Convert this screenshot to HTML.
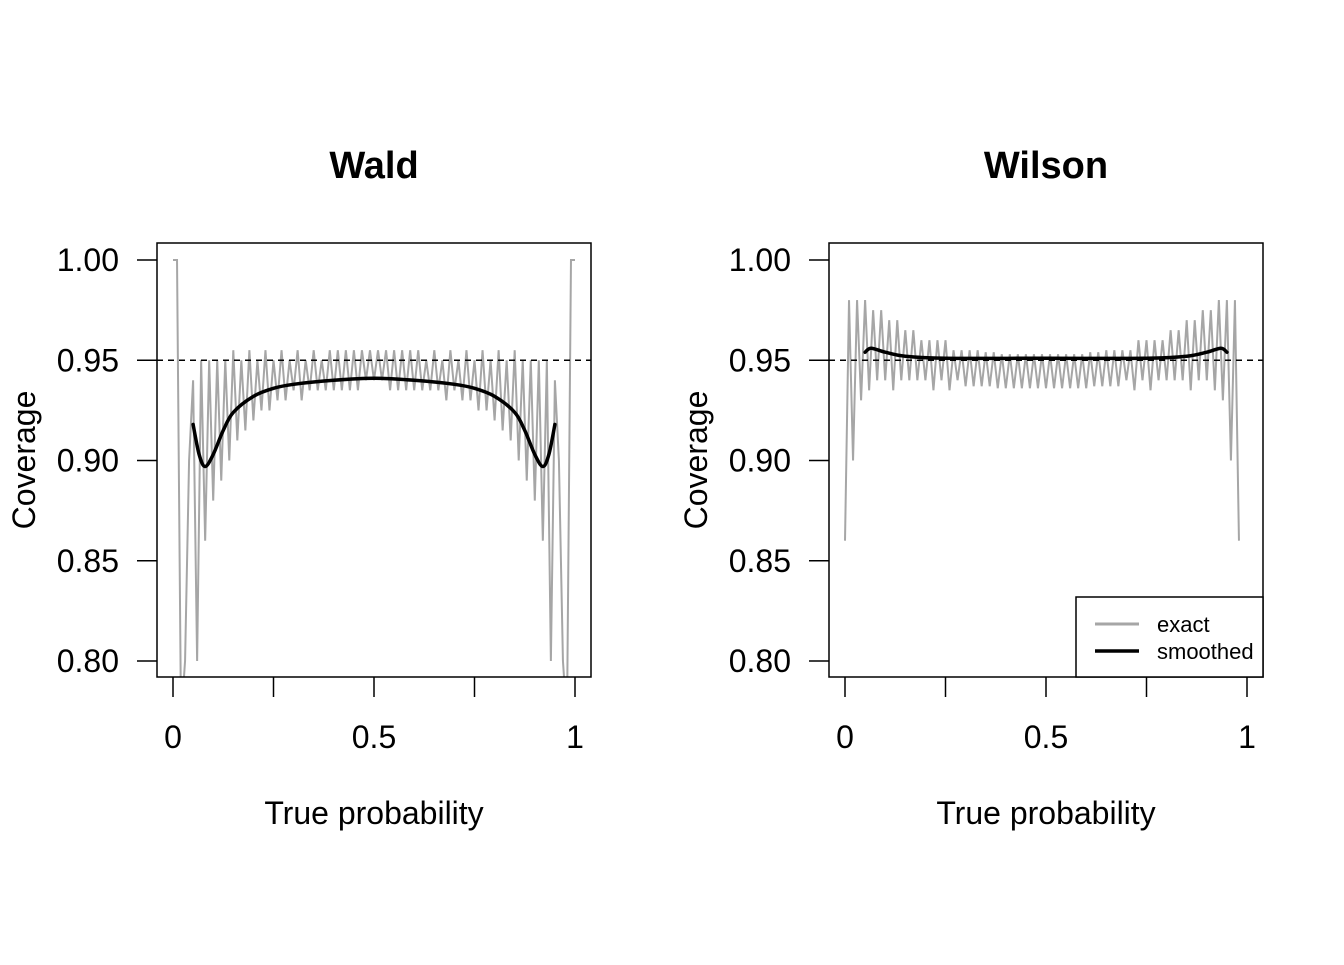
<!DOCTYPE html>
<html><head><meta charset="utf-8"><style>
body{margin:0;background:#fff;}
svg text{font-family:"Liberation Sans",sans-serif;fill:#000;}
</style></head><body>
<svg id="c" width="1344" height="960" xmlns="http://www.w3.org/2000/svg"></svg>
<script>
const pGrid = Array.from({length:101},(_,i)=>i/100);
const waldExact = [1.00,1.00,0.77,0.80,0.90,0.94,0.80,0.95,0.86,0.95,0.88,0.95,0.89,0.95,0.90,0.955,0.91,0.95,0.915,0.955,0.92,0.95,0.925,0.955,0.925,0.95,0.93,0.955,0.93,0.95,0.935,0.955,0.93,0.95,0.935,0.955,0.935,0.95,0.935,0.955,0.935,0.955,0.935,0.955,0.935,0.955,0.935,0.955,0.94,0.955,0.94,
0.955,0.94,0.955,0.935,0.955,0.935,0.955,0.935,0.955,0.935,0.955,0.935,0.95,0.935,0.955,0.935,0.95,0.93,0.955,0.935,0.95,0.93,0.955,0.93,0.95,0.925,0.955,0.925,0.95,0.92,0.955,0.915,0.95,0.91,0.955,0.90,0.95,0.89,0.95,0.88,0.95,0.86,0.95,0.80,0.94,0.90,0.80,0.77,1.00,1.00];
const wilsonExact = [0.86,0.98,0.90,0.98,0.93,0.98,0.935,0.975,0.94,0.975,0.94,0.97,0.935,0.97,0.94,0.965,0.94,0.965,0.94,0.96,0.94,0.96,0.935,0.96,0.94,0.96,0.935,0.955,0.94,0.955,0.937,0.955,0.937,0.955,0.937,0.954,0.937,0.954,0.936,0.953,0.936,0.953,0.936,0.953,0.936,0.953,0.936,0.953,0.936,0.953,0.936,
0.953,0.936,0.953,0.936,0.953,0.936,0.953,0.936,0.953,0.936,0.954,0.937,0.954,0.937,0.955,0.937,0.955,0.937,0.955,0.94,0.955,0.935,0.96,0.94,0.96,0.935,0.96,0.94,0.96,0.94,0.965,0.94,0.965,0.94,0.97,0.935,0.97,0.94,0.975,0.94,0.975,0.935,0.98,0.93,0.98,0.90,0.98,0.86];
const waldSmoothP = [0.05,0.065,0.08,0.10,0.125,0.15,0.2,0.25,0.3,0.4,0.5,0.6,0.7,0.75,0.8,0.85,0.875,0.9,0.92,0.935,0.95];
const waldSmoothV = [0.918,0.903,0.897,0.903,0.915,0.924,0.932,0.936,0.938,0.940,0.941,0.940,0.938,0.936,0.932,0.924,0.915,0.903,0.897,0.903,0.918];
const wilsonSmoothP = [0.05,0.065,0.1,0.15,0.25,0.5,0.75,0.85,0.9,0.935,0.95];
const wilsonSmoothV = [0.954,0.956,0.954,0.952,0.951,0.951,0.951,0.952,0.954,0.956,0.954];
const yTicks = [0.80,0.85,0.90,0.95,1.00];
const xTicks = [0,0.25,0.5,0.75,1];
const xLabels = ["0","","0.5","","1"];

const svg=document.getElementById('c');
const NS='http://www.w3.org/2000/svg';
function mk(tag,attrs,parent){const e=document.createElementNS(NS,tag);for(const k in attrs)e.setAttribute(k,attrs[k]);(parent||svg).appendChild(e);return e;}
const Y=v=>260+(1.0-v)/0.2*401;
function smoothPath(pts){
  let d='M'+pts[0][0]+','+pts[0][1];
  for(let i=0;i<pts.length-1;i++){
    const p0=pts[Math.max(i-1,0)],p1=pts[i],p2=pts[i+1],p3=pts[Math.min(i+2,pts.length-1)];
    const c1x=p1[0]+(p2[0]-p0[0])/6,c1y=p1[1]+(p2[1]-p0[1])/6;
    const c2x=p2[0]-(p3[0]-p1[0])/6,c2y=p2[1]-(p3[1]-p1[1])/6;
    d+=' C'+c1x+','+c1y+' '+c2x+','+c2y+' '+p2[0]+','+p2[1];
  }
  return d;
}

function panel(ox,title,exact,sp,sv,id){
  const g=mk('g',{});
  
  
  const X=p=>ox+173+p*402;
  const box={x:ox+157,y:243,w:434,h:434};
  const cp=mk('clipPath',{id:'cl'+id},g);
  mk('rect',{x:box.x,y:box.y,width:box.w,height:box.h},cp);
  const t=mk('text',{x:X(0.5),y:178,'text-anchor':'middle','font-size':38,'font-weight':'bold'},g);t.textContent=title;
  
  const pe=mk('polyline',{points:pGrid.map((p,i)=>X(p)+','+Y(exact[i])).join(' '),fill:'none',stroke:'#a6a6a6','stroke-width':2,'clip-path':'url(#cl'+id+')'},g);
  
  const ref=mk('line',{x1:box.x,x2:box.x+box.w,y1:Y(0.95),y2:Y(0.95),stroke:'#000','stroke-width':1.5,'stroke-dasharray':'6,5'},g);
  
  const ps=mk('path',{d:smoothPath(sp.map((p,i)=>[X(p),Y(sv[i])])),fill:'none',stroke:'#000','stroke-width':3.5,'stroke-linejoin':'round','stroke-linecap':'round'},g);
  
  const r=mk('rect',{x:box.x,y:box.y,width:box.w,height:box.h,fill:'none',stroke:'#000','stroke-width':1.5},g);
  
  const ya=mk('g',{},g);
  yTicks.forEach(v=>{mk('line',{x1:box.x-20,x2:box.x,y1:Y(v),y2:Y(v),stroke:'#000','stroke-width':1.5},ya);
    const tt=mk('text',{x:box.x-38,y:Y(v)+11,'text-anchor':'end','font-size':32},ya);tt.textContent=v.toFixed(2);});
  const xa=mk('g',{},g);
  xTicks.forEach((v,i)=>{mk('line',{x1:X(v),x2:X(v),y1:677,y2:697,stroke:'#000','stroke-width':1.5},xa);
    if(xLabels[i]){const tt=mk('text',{x:X(v),y:748,'text-anchor':'middle','font-size':32},xa);tt.textContent=xLabels[i];}});
  const xl=mk('text',{x:X(0.5),y:824,'text-anchor':'middle','font-size':32},g);xl.textContent='True probability';
  
  const yl=mk('text',{x:0,y:0,'text-anchor':'middle','font-size':32,transform:'translate('+(ox+35)+',460) rotate(-90)'},g);yl.textContent='Coverage';
  
}
panel(0,'Wald',waldExact,waldSmoothP,waldSmoothV,'wald');
panel(672,'Wilson',wilsonExact,wilsonSmoothP,wilsonSmoothV,'wilson');
const lg=mk('g',{});


mk('rect',{x:1076,y:597,width:187,height:80,fill:'#fff',stroke:'#000','stroke-width':1.5},lg);
mk('line',{x1:1095,x2:1139,y1:624,y2:624,stroke:'#a6a6a6','stroke-width':3},lg);
mk('line',{x1:1095,x2:1139,y1:651,y2:651,stroke:'#000','stroke-width':3.5},lg);
const l1=mk('text',{x:1157,y:632,'font-size':22},lg);l1.textContent='exact';

const l2=mk('text',{x:1157,y:659,'font-size':22},lg);l2.textContent='smoothed';

</script>
</body></html>
